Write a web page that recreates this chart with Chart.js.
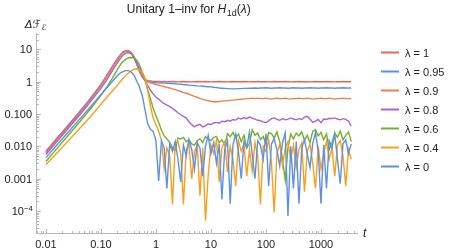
<!DOCTYPE html>
<html>
<head>
<meta charset="utf-8">
<script src="https://cdn.jsdelivr.net/npm/chart.js@4.4.1/dist/chart.umd.min.js"></script>
<style>
  html, body { margin: 0; padding: 0; background: #fff; }
  canvas { display: block; }
</style>
</head>
<body>
<canvas id="chart" width="449" height="251"></canvas>
<script>
// times t (log spaced)
const times = [
  0.01, 0.0158, 0.0251, 0.0398, 0.0631, 0.1, 0.126, 0.158, 0.2, 0.224,
  0.251, 0.282, 0.316, 0.355, 0.398, 0.447, 0.501, 0.562, 0.631, 0.708,
  0.794, 0.891,
  1, 1.12, 1.26, 1.41, 1.58, 1.78, 2, 2.24, 2.51, 2.82, 3.16, 3.55, 3.98, 4.47, 5.01, 5.62, 6.31, 7.08, 7.94, 8.91,
  10, 11.2, 12.6, 14.1, 15.8, 17.8, 20, 22.4, 25.1, 28.2, 31.6, 35.5, 39.8, 44.7, 50.1, 56.2, 63.1, 70.8, 79.4, 89.1,
  100, 112, 126, 141, 158, 178, 200, 224, 251, 282, 316, 355, 398, 447, 501, 562, 631, 708, 794, 891,
  1000, 1122, 1259, 1413, 1585, 1778, 1995, 2239, 2512, 2818, 3162, 3548
];

// ΔF for each λ
const lam1 = [
  0.0071, 0.0178, 0.0447, 0.112, 0.295, 0.83, 1.51, 2.82, 5.25, 6.76,
  8.3, 9.3, 9.1, 7.9, 5.75, 3.55, 2.1, 1.41, 1.17, 1.08, 1.05, 1.02,
  1.02, 1.01, 1.0, 1.01, 1.0, 1.0, 1.01, 1.0, 0.99, 1.0,
  1.01, 1.0, 1.0, 0.99, 1.0, 1.01, 1.0, 1.0, 1.01, 1.0,
  0.99, 1.0, 1.0, 1.01, 1.0, 1.0, 0.99, 1.0, 1.01, 1.0,
  1.0, 1.0, 1.01, 1.0, 0.99, 1.0, 1.0, 1.01, 1.0, 1.0,
  1.0, 0.99, 1.0, 1.01, 1.0, 1.0, 1.0, 1.01, 1.0, 0.99,
  1.0, 1.0, 1.01, 1.0, 1.0, 1.0, 0.99, 1.0, 1.01, 1.0,
  1.0, 1.0, 1.01, 1.0, 1.0, 0.99, 1.0, 1.0, 1.01, 1.0,
  1.0, 1.0
];
const lam095 = [
  0.0067, 0.0168, 0.042, 0.105, 0.28, 0.78, 1.42, 2.65, 5.0, 6.5,
  8.0, 9.0, 8.9, 7.8, 5.8, 3.6, 2.1, 1.4, 1.13, 1.04, 0.99, 0.96,
  0.93, 0.92, 0.91, 0.9, 0.89, 0.88, 0.87, 0.86, 0.84, 0.83,
  0.81, 0.8, 0.78, 0.77, 0.76, 0.74, 0.73, 0.72, 0.71, 0.7,
  0.69, 0.67, 0.66, 0.64, 0.63, 0.62, 0.61, 0.6, 0.6, 0.6,
  0.61, 0.61, 0.62, 0.62, 0.63,
  0.63, 0.64, 0.63, 0.64, 0.64, 0.65, 0.64, 0.63, 0.64, 0.64,
  0.65, 0.64, 0.64, 0.63, 0.64, 0.65, 0.64, 0.64, 0.63, 0.64,
  0.64, 0.65, 0.64, 0.64, 0.63, 0.64, 0.64, 0.65, 0.64, 0.64,
  0.63, 0.64, 0.64, 0.65, 0.64, 0.64, 0.64
];
const lam09 = [
  0.0062, 0.0157, 0.039, 0.098, 0.26, 0.73, 1.33, 2.5, 4.7, 6.2,
  7.7, 8.7, 8.9, 8.0, 6.1, 3.9, 2.3, 1.5, 1.12, 0.98, 0.92, 0.87,
  0.82, 0.78, 0.74, 0.71, 0.67, 0.64, 0.6, 0.57, 0.53, 0.5,
  0.46, 0.44, 0.41, 0.38, 0.35, 0.33, 0.3, 0.29, 0.27, 0.26,
  0.245, 0.24, 0.24, 0.245, 0.25, 0.255, 0.26, 0.265, 0.27, 0.275,
  0.28, 0.285, 0.29, 0.3, 0.3,
  0.31, 0.3, 0.31, 0.3, 0.3, 0.31, 0.3, 0.29, 0.3, 0.31,
  0.3, 0.3, 0.31, 0.3, 0.29, 0.3, 0.3, 0.31, 0.3, 0.3,
  0.31, 0.3, 0.29, 0.3, 0.3, 0.31, 0.3, 0.3, 0.31, 0.3,
  0.29, 0.3, 0.3, 0.31, 0.3, 0.3, 0.3
];
const lam08 = [
  0.0056, 0.014, 0.035, 0.087, 0.23, 0.62, 1.1, 2.05, 3.9, 5.2,
  6.6, 7.6, 8.0, 7.4, 5.6, 3.8, 2.6, 1.7, 1.1, 0.75, 0.55, 0.42,
  0.33, 0.29, 0.24, 0.21, 0.19, 0.17, 0.15, 0.13, 0.11, 0.095,
  0.085, 0.075, 0.058, 0.047, 0.04, 0.045, 0.048, 0.04, 0.043, 0.05,
  0.047, 0.053, 0.055, 0.052, 0.06, 0.058, 0.064, 0.06, 0.068, 0.065,
  0.075, 0.07, 0.078, 0.072, 0.082, 0.074, 0.07, 0.064, 0.062, 0.057,
  0.054, 0.062, 0.072, 0.076, 0.068, 0.064, 0.072, 0.066, 0.07, 0.076,
  0.07, 0.066, 0.072, 0.068, 0.08, 0.085, 0.07, 0.055, 0.06, 0.068,
  0.054, 0.07, 0.068, 0.074, 0.072, 0.076, 0.07, 0.066, 0.072, 0.068,
  0.06, 0.042
];
const lam06 = [
  0.0034, 0.0085, 0.0214, 0.054, 0.138, 0.38, 0.66, 1.2, 2.4, 3.3,
  4.2, 4.9, 5.4, 5.6, 5.5, 4.6, 3.3, 2.0, 1.17, 0.56, 0.3, 0.15,
  0.088, 0.055, 0.032, 0.021, 0.017, 0.013, 0.009, 0.0075, 0.018, 0.017,
  0.019, 0.014, 0.016, 0.012, 0.011, 0.015, 0.017, 0.013, 0.02, 0.017,
  0.015, 0.019, 0.02, 0.013, 0.016, 0.011, 0.025, 0.02, 0.027, 0.018,
  0.024, 0.014, 0.022, 0.009, 0.012, 0.033, 0.022, 0.026, 0.016, 0.02,
  0.012, 0.027, 0.025, 0.018, 0.028, 0.014, 0.004, 0.0009, 0.009, 0.024,
  0.017, 0.026, 0.021, 0.028, 0.015, 0.022, 0.013, 0.029, 0.033, 0.021,
  0.027, 0.016, 0.024, 0.008, 0.013, 0.026, 0.019, 0.03, 0.016, 0.022,
  0.028, 0.014
];
const lam04 = [
  0.0027, 0.0062, 0.0145, 0.034, 0.08, 0.2, 0.32, 0.5, 0.78, 1.0,
  1.25, 1.55, 1.85, 2.15, 2.45, 2.5, 2.3, 1.95, 1.35, 0.55, 0.18, 0.075,
  0.047, 0.03, 0.016, 0.002, 0.009, 0.005, 0.00016, 0.012, 0.014, 0.006,
  0.00016, 0.008, 0.013, 0.001, 0.007, 0.011, 0.0003, 0.009, 0.00005, 0.0013,
  0.011, 0.006, 0.016, 0.0008, 0.009, 0.014, 0.0016, 0.01, 0.004, 0.0006,
  0.015, 0.007, 0.012, 0.0012, 0.008, 0.0017, 0.013, 0.005, 0.00016, 0.01,
  0.007, 0.016, 0.003, 0.00009, 0.006, 0.012, 0.0025, 0.009, 0.014, 0.004,
  0.011, 0.0022, 0.008, 0.013, 0.0004, 0.007, 0.012, 0.003, 0.0005, 0.01,
  0.002, 0.006, 0.014, 0.004, 0.009, 0.0012, 0.011, 0.015, 0.005, 0.0006,
  0.008, 0.004
];
const lam0 = [
  0.0045, 0.011, 0.027, 0.066, 0.16, 0.4, 0.62, 0.98, 1.55, 1.85,
  2.05, 2.2, 2.2, 2.0, 1.6, 1.05, 0.7, 0.38, 0.14, 0.05, 0.034, 0.029,
  0.015, 0.00085, 0.015, 0.009, 0.0005, 0.012, 0.007, 0.014, 0.004, 0.0008,
  0.011, 0.005, 0.016, 0.008, 0.002, 0.013, 0.009, 0.0012, 0.01, 0.022,
  0.006, 0.013, 0.003, 0.012, 0.00023, 0.008, 0.015, 0.00017, 0.011, 0.024,
  0.007, 0.001, 0.014, 0.009, 0.028, 0.006, 0.001, 0.015, 0.011, 0.004,
  0.025, 0.0006, 0.012, 0.017, 0.008, 0.0025, 0.013, 0.026, 0.00007, 0.01,
  0.0005, 0.014, 0.00017, 0.009, 0.016, 0.006, 0.0022, 0.012, 0.027, 0.007,
  0.00017, 0.011, 0.0005, 0.015, 0.009, 0.024, 0.004, 0.0007, 0.012, 0.016,
  0.006, 0.012
];

const seriesLabels = ['λ = 1', 'λ = 0.95', 'λ = 0.9', 'λ = 0.8', 'λ = 0.6', 'λ = 0.4', 'λ = 0'];
const seriesValues = [lam1, lam095, lam09, lam08, lam06, lam04, lam0];
const seriesColors = ['#e8655a', '#5f8de6', '#f07d46', '#a864d2', '#73af2d', '#f8a01e', '#5f91e1'];

// tick labels
const xTicks = [0.01, 0.1, 1, 10, 100, 1000];
const xTickLabels = ['0.01', '0.10', '1', '10', '100', '1000'];
const yTicks = [1e-4, 0.001, 0.01, 0.1, 1, 10];
const yTickLabels = ['10^-4', '0.001', '0.010', '0.100', '1', '10'];

const FONT = '"Liberation Sans", Arial, sans-serif';

// axes drawn Mathematica style: light gray, ticks pointing inward
const axesPlugin = {
  id: 'axes',
  beforeDatasetsDraw(chart) {
    const { ctx, chartArea: a, scales: { x, y } } = chart;
    ctx.save();
    ctx.strokeStyle = '#b8b8b8';
    ctx.lineWidth = 1;
    ctx.beginPath();
    ctx.moveTo(a.left + 0.5, a.top);
    ctx.lineTo(a.left + 0.5, a.bottom + 0.5);
    ctx.lineTo(a.right, a.bottom + 0.5);
    ctx.stroke();

    ctx.beginPath();
    for (let d = -3; d <= 3; d++) {
      for (let m = 1; m <= 9; m++) {
        const v = m * Math.pow(10, d);
        if (v < x.min || v > x.max) continue;
        const px = Math.round(x.getPixelForValue(v)) + 0.5;
        const len = m === 1 ? 4 : 2;
        ctx.moveTo(px, a.bottom);
        ctx.lineTo(px, a.bottom - len);
      }
    }
    for (let d = -5; d <= 1; d++) {
      for (let m = 1; m <= 9; m++) {
        const v = m * Math.pow(10, d);
        if (v < y.min || v > y.max) continue;
        const py = Math.round(y.getPixelForValue(v)) + 0.5;
        const len = m === 1 ? 4 : 2;
        ctx.moveTo(a.left + 1, py);
        ctx.lineTo(a.left + 1 + len, py);
      }
    }
    ctx.stroke();
    ctx.restore();
  },
  afterDraw(chart) {
    const { ctx, chartArea: a, scales: { x, y } } = chart;
    ctx.save();
    ctx.fillStyle = '#222';

    // x tick labels
    ctx.font = '11px ' + FONT;
    ctx.textAlign = 'center';
    ctx.textBaseline = 'alphabetic';
    xTicks.forEach((v, i) => {
      ctx.fillText(xTickLabels[i], x.getPixelForValue(v), 248);
    });

    // y tick labels
    ctx.textAlign = 'right';
    yTicks.forEach((v, i) => {
      const py = y.getPixelForValue(v);
      const lab = yTickLabels[i];
      if (lab.indexOf('^') > 0) {
        const [base, exp] = lab.split('^');
        ctx.font = '8px ' + FONT;
        const expTxt = exp.replace('-', '\u2212');
        ctx.fillText(expTxt, a.left - 3, py);
        const w = ctx.measureText(expTxt).width;
        ctx.font = '11px ' + FONT;
        ctx.fillText(base, a.left - 3 - w, py + 4);
      } else {
        ctx.fillText(lab, a.left - 4, py + 4);
      }
    });

    // axis labels
    ctx.textAlign = 'left';
    ctx.font = 'italic 12px ' + FONT;
    ctx.fillText('t', 363, 237);
    ctx.font = 'italic 11px "DejaVu Sans", ' + FONT;
    ctx.fillText('Δℱ', 25, 27.5);
    const wy = ctx.measureText('Δℱ').width;
    ctx.font = 'italic 8px "DejaVu Sans", ' + FONT;
    ctx.fillText('ℰ', 25 + wy + 0.5, 29.5);

    // title with H_1d(λ)
    const parts = [
      { t: 'Unitary 1\u2013inv for ', f: '12px ' + FONT, dy: 0 },
      { t: 'H', f: 'italic 12px ' + FONT, dy: 0 },
      { t: '1d', f: '9px ' + FONT, dy: 3 },
      { t: '(', f: '12px ' + FONT, dy: 0 },
      { t: 'λ', f: 'italic 12px ' + FONT, dy: 0 },
      { t: ')', f: '12px ' + FONT, dy: 0 }
    ];
    let total = 0;
    parts.forEach(p => { ctx.font = p.f; p.w = ctx.measureText(p.t).width; total += p.w; });
    let tx = 188.5 - total / 2;
    parts.forEach(p => {
      ctx.font = p.f;
      ctx.fillText(p.t, tx, 12.7 + p.dy);
      tx += p.w + (p.t === 'H' ? 0.5 : 0);
    });

    // legend
    ctx.font = '11px ' + FONT;
    chart.data.datasets.forEach((ds, i) => {
      const cy = 52.5 + i * 19;
      ctx.strokeStyle = ds.borderColor;
      ctx.lineWidth = 2;
      ctx.beginPath();
      ctx.moveTo(381, cy);
      ctx.lineTo(399, cy);
      ctx.stroke();
      ctx.fillStyle = '#222';
      ctx.fillText(ds.label, 405, cy + 4);
    });
    ctx.restore();
  }
};

const datasets = seriesValues.map((vals, i) => ({
  label: seriesLabels[i],
  data: times.map((t, k) => ({ x: t, y: vals[k] })),
  borderColor: seriesColors[i],
  borderWidth: 1.4,
  pointRadius: 0,
  tension: 0,
  fill: false,
  order: seriesValues.length - i
}));

new Chart(document.getElementById('chart'), {
  type: 'line',
  data: { datasets },
  options: {
    responsive: false,
    animation: false,
    devicePixelRatio: 1,
    layout: { padding: { left: 36, right: 91, top: 33, bottom: 18 } },
    scales: {
      x: { type: 'logarithmic', min: 0.0066, max: 4710, display: false },
      y: { type: 'logarithmic', min: 2.1e-5, max: 32, display: false }
    },
    plugins: {
      legend: { display: false },
      tooltip: { enabled: false },
      title: { display: false }
    }
  },
  plugins: [axesPlugin]
});
</script>
</body>
</html>
